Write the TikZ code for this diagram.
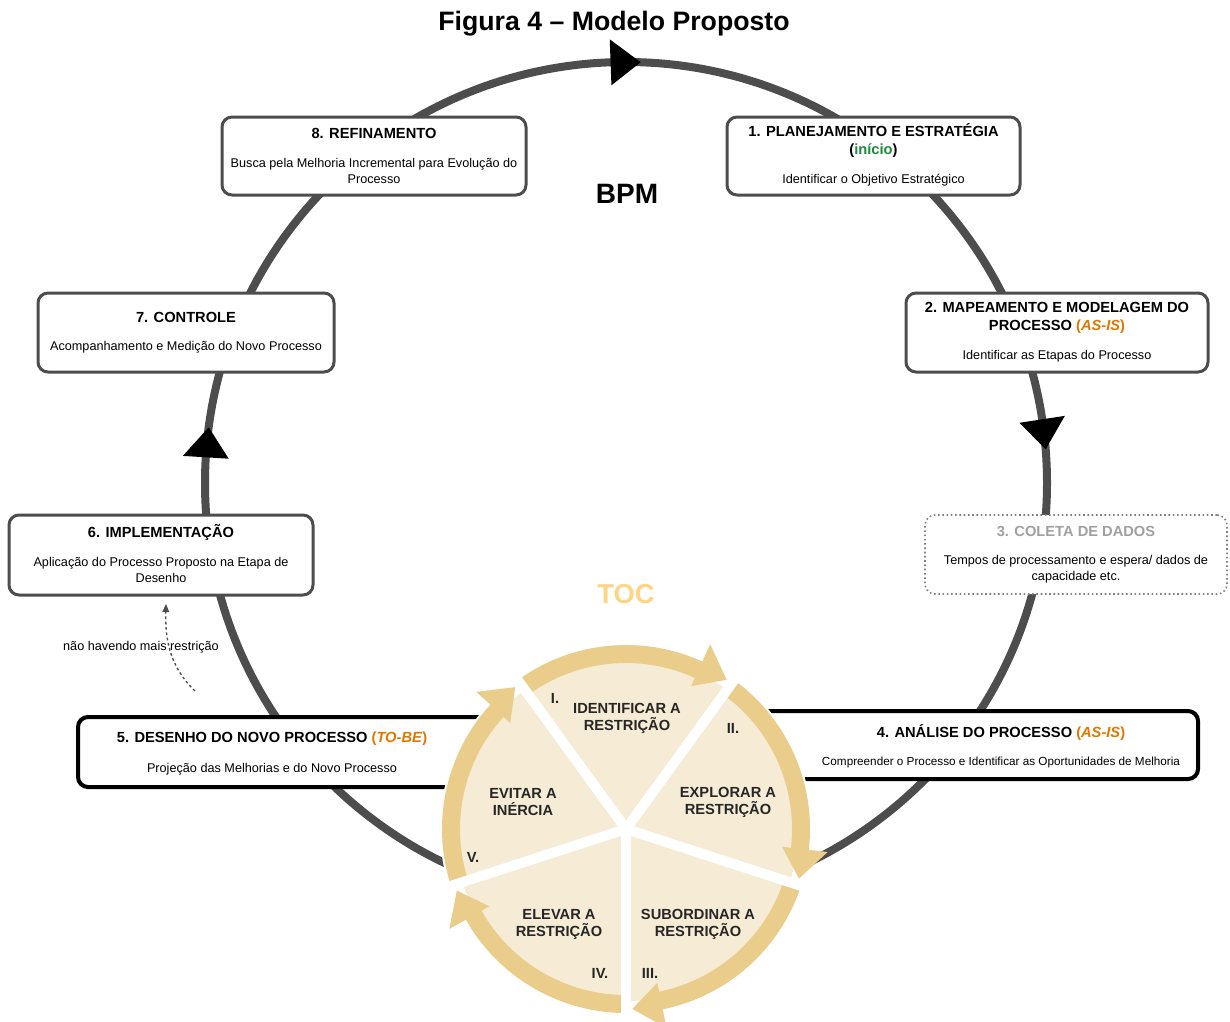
\documentclass[tikz,border=0pt]{standalone}
\usepackage{fontspec}
\setmainfont{Liberation Sans}
\usetikzlibrary{arrows.meta}
\definecolor{bpmgray}{HTML}{4D4D4D}
\definecolor{okgreen}{HTML}{1E8A3E}
\definecolor{asisor}{HTML}{E07800}
\definecolor{ringc}{HTML}{EACC8B}
\definecolor{piefill}{HTML}{F6ECD6}
\definecolor{toctext}{HTML}{FFD585}
\definecolor{dotgray}{HTML}{808080}
\definecolor{ttlgray}{HTML}{A0A0A0}
\tikzset{
  box/.style={draw=bpmgray, line width=2.25pt, rounded corners=7.5pt, fill=white, inner sep=0pt},
  boxk/.style={draw=black, line width=3pt, rounded corners=7.5pt, fill=white, inner sep=0pt},
  boxdot/.style={draw=dotgray, line width=1.2pt, dotted, rounded corners=7.5pt, fill=white, inner sep=0pt},
  ttl/.style={font=\bfseries\fontsize{11}{13.5}\selectfont, align=center, inner sep=0pt},
  dsc/.style={font=\fontsize{9.5}{12}\selectfont, align=center, inner sep=0pt},
  pielbl/.style={font=\bfseries\fontsize{11}{12.75}\selectfont, align=center, inner sep=0pt, text=black!85},
  ringarc/.style={draw=ringc, line width=13.5pt},
  sepline/.style={draw=white, line width=7.5pt},
  bigring/.style={draw=bpmgray, line width=6pt},
}
\newcommand{\asis}[1]{\textcolor{asisor}{(\textit{#1})}}
\begin{document}
\begin{tikzpicture}[x=0.75pt,y=-0.75pt]
\useasboundingbox (0,0) rectangle (1230,1021);
\fill[white] (0,0) rectangle (1230,1021);

% BPM cycle
\coordinate (C) at (626,483);
\draw[bigring] (C) circle[radius=421];
\fill[black] ([shift={(C)}]-88:421) -- ([shift={(C)}]-92.1:444) -- ([shift={(C)}]-92.1:398) -- cycle;
\fill[black] ([shift={(C)}]-4.6:421) -- ([shift={(C)}]-8.7:444) -- ([shift={(C)}]-8.7:398) -- cycle;
\fill[black] ([shift={(C)}]187.6:421) -- ([shift={(C)}]183.5:444) -- ([shift={(C)}]183.5:398) -- cycle;

% Boxes
\node[box, minimum width=228pt, minimum height=58.5pt] (b8) at (374,156) {};
\node[ttl] (b8t) at (374,133) {8. REFINAMENTO};
\node[dsc] (b8d) at (374,171) {Busca pela Melhoria Incremental para Evolução do\\Processo};

\node[box, minimum width=219.75pt, minimum height=58.5pt] (b1) at (873.5,156) {};
\node[ttl] (b1t) at (873.5,141) {1. PLANEJAMENTO E ESTRATÉGIA\\(\textcolor{okgreen}{início})};
\node[dsc] (b1d) at (873.5,180) {Identificar o Objetivo Estratégico};

\node[box, minimum width=226.5pt, minimum height=59.25pt] (b2) at (1057,332.5) {};
\node[ttl] (b2t) at (1057,317.5) {2. MAPEAMENTO E MODELAGEM DO\\PROCESSO \asis{AS-IS}};
\node[dsc] (b2d) at (1057,356) {Identificar as Etapas do Processo};

\node[boxdot, minimum width=226.5pt, minimum height=59.25pt] (b3) at (1076,554.5) {};
\node[ttl, text=ttlgray] (b3t) at (1076,531) {3. COLETA DE DADOS};
\node[dsc] (b3d) at (1076,569) {Tempos de processamento e espera/ dados de\\capacidade etc.};

\node[boxk, minimum width=343.5pt, minimum height=51pt] (b4) at (969,745) {};
\node[ttl] (b4t) at (1001,733) {4. ANÁLISE DO PROCESSO \asis{AS-IS}};
\node[dsc, font=\fontsize{8.8}{11}\selectfont] (b4d) at (1001,762) {Compreender o Processo e Identificar as Oportunidades de Melhoria};

\node[boxk, minimum width=316.5pt, minimum height=52.5pt] (b5) at (289,752) {};
\node[ttl] (b5t) at (272,739) {5. DESENHO DO NOVO PROCESSO \asis{TO-BE}};
\node[dsc] (b5d) at (272,769) {Projeção das Melhorias e do Novo Processo};

\node[box, minimum width=228pt, minimum height=60pt] (b6) at (161,555) {};
\node[ttl] (b6t) at (161,532) {6. IMPLEMENTAÇÃO};
\node[dsc] (b6d) at (161,570) {Aplicação do Processo Proposto na Etapa de\\Desenho};

\node[box, minimum width=222pt, minimum height=59.25pt] (b7) at (186,332.5) {};
\node[ttl] (b7t) at (186,317) {7. CONTROLE};
\node[dsc] (b7d) at (186,347) {Acompanhamento e Medição do Novo Processo};

% Titles
\node[inner sep=0pt, font=\bfseries\fontsize{20}{24}\selectfont] (title) at (614,24) {Figura 4 – Modelo Proposto};
\node[inner sep=0pt, font=\bfseries\fontsize{21}{24}\selectfont] (bpm) at (627,194) {BPM};
\node[inner sep=0pt, font=\bfseries\fontsize{20.5}{24}\selectfont, text=toctext] (toc) at (626,594) {TOC};

% dashed loop-back arrow
\coordinate (dstart) at (195,691);
\coordinate (dend) at (166,604);
\draw[bpmgray, line width=1pt, dash pattern=on 2pt off 2pt, -{Triangle[length=6pt,width=5pt]}]
  (dstart) .. controls (170,667) and (165,640) .. (dend);
\node[dsc] (dlbl) at (141,647) {não havendo mais restrição};

% TOC cycle
\coordinate (T) at (626,829);
\fill[white] (T) circle[radius=186];
\fill[piefill] (T) circle[radius=172];
\foreach \a in {-126,-54,18,90,162} {
  \pgfmathsetmacro\b{\a+72}
  \draw[ringarc] ([shift={(T)}]\a:175) arc[start angle=\a, end angle=\b-9, radius=175];
  \fill[ringc] ([shift={(T)}]\b-2:180) -- ([shift={(T)}]\b-11.5:203) -- ([shift={(T)}]\b-11.5:157) -- cycle;
}
\foreach \a in {-126,-54,18,90,162} {
  \draw[sepline] (T) -- ([shift={(T)}]\a:187);
}
\node[pielbl] (p1) at (627,718) {IDENTIFICAR A\\RESTRIÇÃO};
\node[pielbl] (p2) at (728,802) {EXPLORAR A\\RESTRIÇÃO};
\node[pielbl] (p3) at (698,924) {SUBORDINAR A\\RESTRIÇÃO};
\node[pielbl] (p4) at (559,924) {ELEVAR A\\RESTRIÇÃO};
\node[pielbl] (p5) at (523,802) {EVITAR A\\INÉRCIA};
\node[pielbl] (n1) at (555,698) {I.};
\node[pielbl] (n2) at (733,728) {II.};
\node[pielbl] (n3) at (650,973) {III.};
\node[pielbl] (n4) at (600,973) {IV.};
\node[pielbl] (n5) at (473,857) {V.};
\end{tikzpicture}
\end{document}
